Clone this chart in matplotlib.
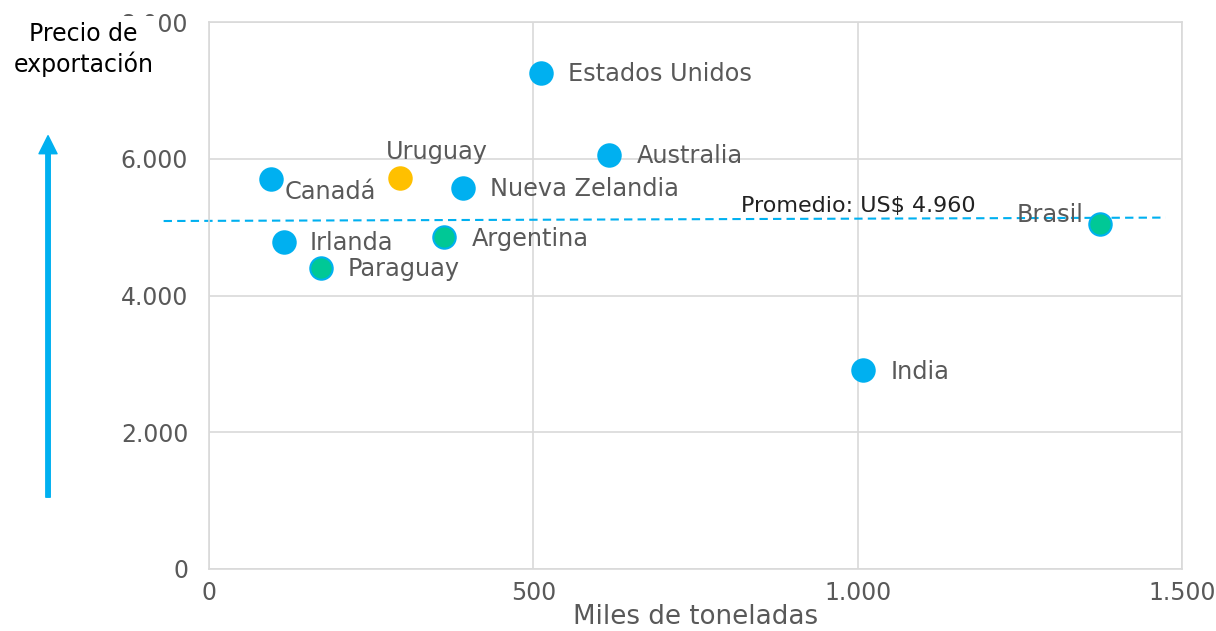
import numpy as np
import matplotlib.pyplot as plt

paises = ['Estados Unidos', 'Australia', 'Canadá', 'Uruguay', 'Nueva Zelandia',
          'Irlanda', 'Argentina', 'Paraguay', 'Brasil', 'India']
miles_ton = [512, 617, 95, 295, 392, 115, 362, 172, 1374, 1008]
precio = [7250, 6060, 5700, 5720, 5580, 4790, 4860, 4410, 5050, 2910]
grupo = ['otro', 'otro', 'otro', 'uy', 'otro', 'otro', 'mercosur', 'mercosur', 'mercosur', 'otro']
promedio_x = [-70, 1475]
promedio_y = [5090, 5140]

colores = {'otro': '#00B0F0', 'uy': '#FFC000', 'mercosur': '#00C896'}
bordes = {'otro': '#00B0F0', 'uy': '#FFC000', 'mercosur': '#00B0F0'}

# text offsets in pixels (dx, dy, ha)
offsets = {
    'Estados Unidos': (27, -1, 'left'),
    'Australia': (28, -1, 'left'),
    'Canadá': (14, -13, 'left'),
    'Uruguay': (37, 26, 'center'),
    'Nueva Zelandia': (27, -1, 'left'),
    'Irlanda': (26, -1, 'left'),
    'Argentina': (28, -2, 'left'),
    'Paraguay': (27, -1, 'left'),
    'Brasil': (-17, 9, 'right'),
    'India': (28, -2, 'left'),
}

gris = '#595959'
fig = plt.figure(figsize=(12.16, 6.31), dpi=100)
ax = fig.add_axes([0.1719, 0.0983, 0.8001, 0.8667])

ax.plot(promedio_x, promedio_y, color='#00B0F0', ls='--', lw=1.5, dashes=(4, 2.5),
        clip_on=False, zorder=2)
ax.annotate('Promedio: US$ 4.960', (820, 5120), xytext=(0, 3), textcoords='offset pixels',
            fontsize=16, color='#222222', va='bottom', ha='left')

for p, x, y, g in zip(paises, miles_ton, precio, grupo):
    ax.scatter(x, y, s=260, color=colores[g], edgecolors=bordes[g], linewidths=1.5,
               zorder=3)
    dx, dy, ha = offsets[p]
    ax.annotate(p, (x, y), xytext=(dx, dy), textcoords='offset pixels', ha=ha,
                va='center', fontsize=17.3, color=gris, zorder=4)

ax.set_xlim(0, 1500)
ax.set_ylim(0, 8000)
ax.set_xticks([0, 500, 1000, 1500])
ax.set_xticklabels(['0', '500', '1.000', '1.500'])
ax.set_yticks([0, 2000, 4000, 6000, 8000])
ax.set_yticklabels(['0', '2.000', '4.000', '6.000', '8.000'])
ax.tick_params(length=0, labelsize=17, labelcolor=gris)
ax.tick_params(axis='y', pad=15)
ax.tick_params(axis='x', pad=9)
ax.grid(True, color='#D9D9D9', lw=1.2)
ax.set_axisbelow(True)
for s in ax.spines.values():
    s.set_color('#D9D9D9')
    s.set_linewidth(1.2)
ax.set_xlabel('Miles de toneladas', fontsize=18.8, color=gris, labelpad=-1)

# white box over the clipped top tick, as in the original
fig.text(0.0685, 0.922, 'Precio de\nexportación', ha='center', va='center', fontsize=17,
         color='black', linespacing=1.25,
         bbox=dict(facecolor='white', edgecolor='none', pad=4), zorder=5)
ax.annotate('', xy=(0.0395, 0.785), xytext=(0.0395, 0.212), xycoords='figure fraction',
            textcoords='figure fraction',
            arrowprops=dict(width=3.2, headwidth=13, headlength=13, color='#00B0F0',
                            shrink=0))

fig.savefig('out.png', dpi=100)
